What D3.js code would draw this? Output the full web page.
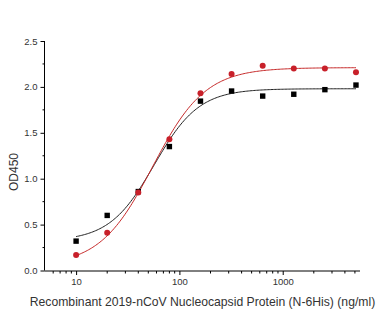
<!DOCTYPE html>
<html><head><meta charset="utf-8">
<script src="https://cdn.jsdelivr.net/npm/d3@7"></script>
<style>body{margin:0;background:#fff}svg{display:block}</style>
</head><body>
<svg id="c" width="388" height="329"></svg>
<script>
const concentrations = [10, 20, 40, 80, 160, 320, 640, 1280, 2560, 5120];
const blackValues = [0.32, 0.60, 0.86, 1.35, 1.845, 1.955, 1.90, 1.92, 1.97, 2.02];
const redValues = [0.17, 0.41, 0.85, 1.43, 1.93, 2.14, 2.23, 2.20, 2.20, 2.16];
// 4PL fit parameters [bottom, slope, EC50, top]
const blackFit = [0.32, 2.0, 57, 1.98];
const redFit = [0.05, 1.7, 55, 2.21];
const yTicks = [0, 0.5, 1.0, 1.5, 2.0, 2.5];
const yMinorTicks = [0.25, 0.75, 1.25, 1.75, 2.25];
const xMajorTicks = [10, 100, 1000];
const xMinorTicks = [6,7,8,9,20,30,40,50,60,70,80,90,200,300,400,500,600,700,800,900,2000,3000,4000,5000];

const svg = d3.select("#c");
const x = d3.scaleLog().domain([5, 5600]).range([45, 360]);
const y = d3.scaleLinear().domain([0, 2.5]).range([270.5, 41]);

const font = "Arial, 'Liberation Sans', sans-serif";

// axes
const yAxis = d3.axisLeft(y).tickValues(yTicks).tickFormat(d3.format(".1f")).tickSize(4).tickPadding(3);
const gy = svg.append("g").attr("transform", "translate(44.5,0)").call(yAxis);
gy.select(".domain").attr("d", `M0,${y(2.5)}V${y(0)}`);
gy.selectAll("text").attr("font-family", font).attr("font-size", 9.5).attr("fill", "#333");
gy.append("g").selectAll("line").data(yMinorTicks).join("line")
  .attr("x1", -2).attr("x2", 0).attr("y1", d => y(d)).attr("y2", d => y(d)).attr("stroke", "#000");

const gx = svg.append("g").attr("transform", "translate(0,271)");
gx.append("line").attr("x1", 44.5).attr("x2", 360).attr("stroke", "#000");
gx.call(g => g.append("g").call(d3.axisBottom(x).tickValues(xMajorTicks).tickFormat(d3.format("d")).tickSize(4).tickPadding(3))
  .call(a => { a.select(".domain").remove(); a.selectAll("text").attr("font-family", font).attr("font-size", 9.5).attr("fill", "#333"); }));
gx.append("g").selectAll("line").data(xMinorTicks).join("line")
  .attr("x1", d => x(d)).attr("x2", d => x(d)).attr("y1", 0).attr("y2", 2.5).attr("stroke", "#000");

// titles
svg.append("text").attr("x", 202.5).attr("y", 306).attr("text-anchor", "middle")
  .attr("font-family", font).attr("font-size", 12.2).attr("fill", "#333")
  .text("Recombinant 2019-nCoV Nucleocapsid Protein (N-6His) (ng/ml)");
svg.append("text").attr("transform", "translate(18,172) rotate(-90)").attr("text-anchor", "middle")
  .attr("font-family", font).attr("font-size", 12).attr("fill", "#333").text("OD450");

// fitted curves
function fourPL(p, c) { return p[3] + (p[0] - p[3]) / (1 + Math.pow(c / p[2], p[1])); }
const curveX = d3.range(0, 201).map(i => Math.pow(10, 1 + i * Math.log10(512) / 200));
const line = p => d3.line().x(d => x(d)).y(d => y(fourPL(p, d)))(curveX);
svg.append("path").attr("d", line(blackFit)).attr("fill", "none").attr("stroke", "#222").attr("stroke-width", 1);
svg.append("path").attr("d", line(redFit)).attr("fill", "none").attr("stroke", "#c62828").attr("stroke-width", 1);

// points
svg.append("g").selectAll("rect").data(concentrations).join("rect")
  .attr("x", (d) => x(d) - 2.7).attr("y", (d, i) => y(blackValues[i]) - 2.7)
  .attr("width", 5.4).attr("height", 5.4).attr("fill", "#000");
svg.append("g").selectAll("circle").data(concentrations).join("circle")
  .attr("cx", d => x(d)).attr("cy", (d, i) => y(redValues[i])).attr("r", 3)
  .attr("fill", "#c8202a");
</script>
</body></html>
